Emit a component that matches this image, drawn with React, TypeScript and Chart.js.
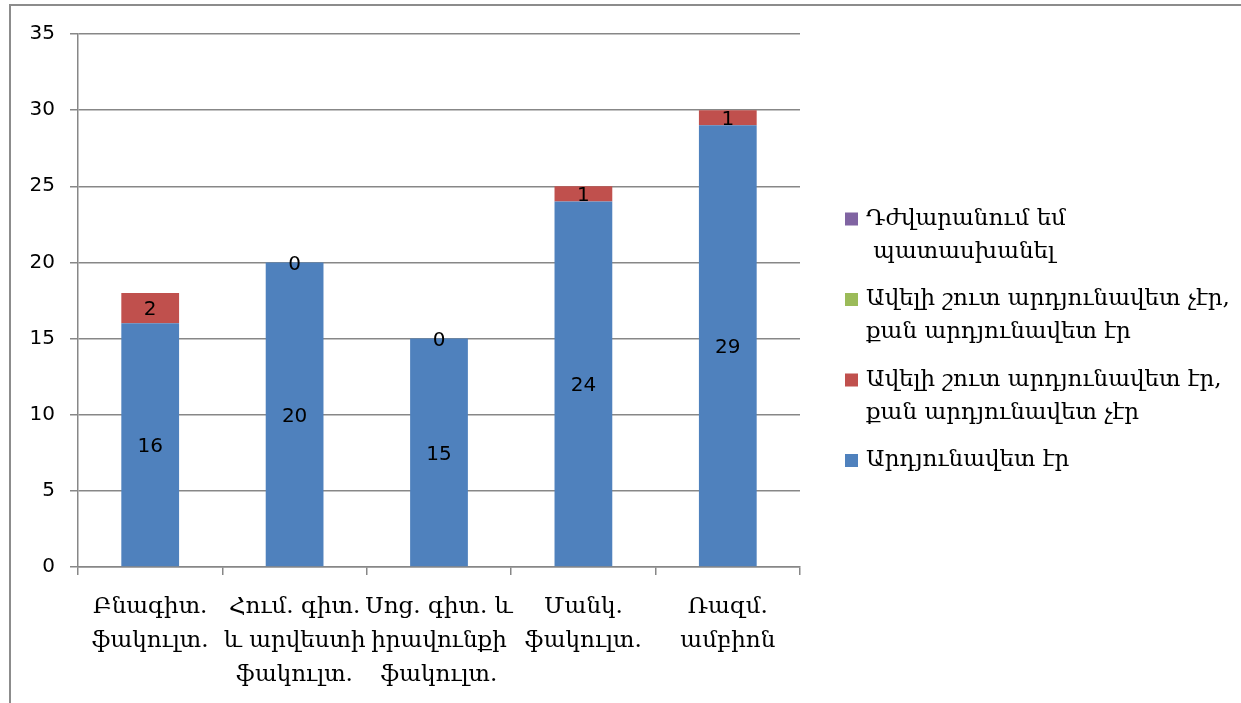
import React, { useEffect, useRef } from "react";
import { Chart, registerables } from "chart.js";

Chart.register(...registerables);

const categories: string[][] = [
  ["Բնագիտ.", "ֆակուլտ."],
  ["Հում. գիտ.", "և արվեստի", "ֆակուլտ."],
  ["Սոց. գիտ. և", "իրավունքի", "ֆակուլտ."],
  ["Մանկ.", "ֆակուլտ."],
  ["Ռազմ.", "ամբիոն"],
];

const effective: (number | null)[] = [16, 20, 15, 24, 29];
const ratherEffective: (number | null)[] = [2, 0, 0, 1, 1];
const ratherNotEffective: (number | null)[] = [null, null, null, null, null];
const hardToAnswer: (number | null)[] = [null, null, null, null, null];

const seriesNames: string[][] = [
  ["Արդյունավետ էր"],
  ["Ավելի շուտ արդյունավետ էր,", "քան արդյունավետ չէր"],
  ["Ավելի շուտ արդյունավետ չէր,", "քան արդյունավետ էր"],
  ["Դժվարանում եմ", " պատասխանել"],
];

const colors = ["#4F81BD", "#C0504D", "#9BBB59", "#8064A2"];
const yTicks = [0, 5, 10, 15, 20, 25, 30, 35];

const GRID = "#878787";
const SANS = "'DejaVu Sans', sans-serif";
const SERIF = "'DejaVu Serif', serif";

const labelPlugin = {
  id: "valueLabels",
  afterDatasetsDraw(chart: any) {
    const ctx = chart.ctx;
    ctx.save();
    ctx.font = `20px ${SANS}`;
    ctx.fillStyle = "#000";
    ctx.textAlign = "center";
    ctx.textBaseline = "middle";
    chart.data.datasets.forEach((ds: any, di: number) => {
      const meta = chart.getDatasetMeta(di);
      meta.data.forEach((el: any, i: number) => {
        const v = ds.data[i];
        if (v === null || v === undefined) return;
        const cy = (el.y + el.base) / 2;
        ctx.fillText(String(v), el.x, cy + 2);
      });
    });
    ctx.restore();
  },
};

const legendPlugin = {
  id: "customLegend",
  afterDraw(chart: any) {
    const ctx = chart.ctx;
    const area = chart.chartArea;
    const sx = area.right + 45;
    const tx = sx + 21;
    const lineH = 33;
    const gap = 14.5;
    let y = 219;
    ctx.save();
    ctx.font = `23px ${SERIF}`;
    ctx.fillStyle = "#000";
    ctx.textAlign = "left";
    ctx.textBaseline = "middle";
    const order = [3, 2, 1, 0];
    order.forEach((di) => {
      const ds = chart.data.datasets[di];
      ctx.fillStyle = ds.backgroundColor;
      ctx.fillRect(sx, y - 6.5, 13, 13);
      ctx.fillStyle = "#000";
      const lines = seriesNames[di];
      lines.forEach((ln, li) => {
        ctx.fillText(ln, tx, y + li * lineH);
      });
      y += lines.length * lineH + gap;
    });
    ctx.restore();
  },
};

export default function App() {
  const ref = useRef<HTMLCanvasElement | null>(null);

  useEffect(() => {
    if (!ref.current) return;
    const mk = (label: string, data: (number | null)[], color: string) => ({
      label,
      data,
      backgroundColor: color,
      borderWidth: 0,
      barPercentage: 0.4,
      categoryPercentage: 1,
      stack: "s",
    });
    const chart = new Chart(ref.current, {
      type: "bar",
      data: {
        labels: categories,
        datasets: [
          mk(seriesNames[0].join(" "), effective, colors[0]),
          mk(seriesNames[1].join(" "), ratherEffective, colors[1]),
          mk(seriesNames[2].join(" "), ratherNotEffective, colors[2]),
          mk(seriesNames[3].join(" "), hardToAnswer, colors[3]),
        ],
      },
      options: {
        animation: false,
        responsive: false,
        devicePixelRatio: 1,
        layout: { padding: { left: 0, top: 34, right: 441, bottom: 0 } },
        plugins: {
          legend: { display: false },
          tooltip: { enabled: false },
        },
        scales: {
          x: {
            stacked: true,
            afterFit: (scale: any) => {
              scale.height = 136;
            },
            grid: {
              offset: true,
              drawOnChartArea: false,
              drawTicks: true,
              tickLength: 8,
              color: GRID,
              lineWidth: 1.5,
            },
            border: { color: GRID, width: 1.5 },
            ticks: {
              color: "#000",
              padding: 15,
              maxRotation: 0,
              autoSkip: false,
              font: { family: SERIF, size: 23, lineHeight: "34px" },
            },
          },
          y: {
            stacked: true,
            min: 0,
            max: 35,
            afterBuildTicks: (scale: any) => {
              scale.ticks = yTicks.map((v) => ({ value: v }));
            },
            afterFit: (scale: any) => {
              scale.width = 78;
            },
            grid: {
              color: GRID,
              lineWidth: 1.5,
              drawTicks: true,
              tickLength: 8,
            },
            border: { color: GRID, width: 1.5 },
            ticks: {
              color: "#000",
              padding: 15,
              font: { family: SANS, size: 20 },
            },
          },
        },
      },
      plugins: [labelPlugin, legendPlugin],
    });
    return () => chart.destroy();
  }, []);

  return (
    <div style={{ position: "fixed", left: 0, top: 0, width: 1241, height: 703, background: "#fff" }}>
      <canvas ref={ref} width={1241} height={703} style={{ position: "absolute", left: 0, top: 0 }} />
      <div
        style={{
          position: "absolute",
          left: 9,
          top: 4,
          right: 0,
          bottom: 0,
          borderTop: "2px solid #8c8c8c",
          borderLeft: "2px solid #8c8c8c",
          pointerEvents: "none",
        }}
      />
    </div>
  );
}
